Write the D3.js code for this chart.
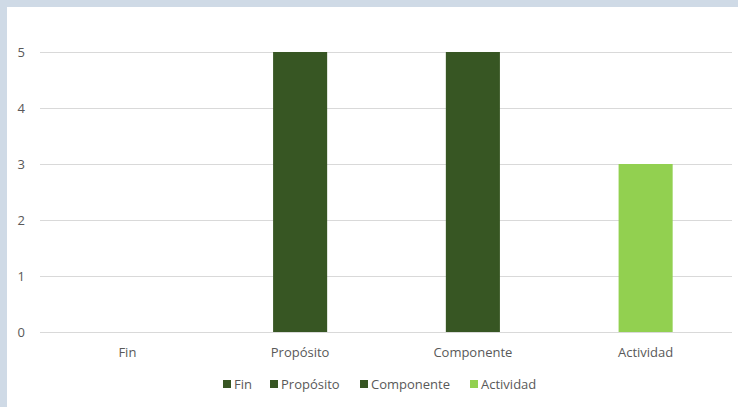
<!DOCTYPE html>
<html><head><meta charset="utf-8">
<script src="https://cdn.jsdelivr.net/npm/d3@7"></script>
<style>body{margin:0;background:#fff}svg{display:block}</style>
</head><body>
<script>
const categories = ["Fin", "Propósito", "Componente", "Actividad"];
const values = [0, 5, 5, 3];
const colors = ["#375623", "#375623", "#375623", "#92d050"];
const yTicks = [0, 1, 2, 3, 4, 5];

const W = 738, H = 407;
const svg = d3.select("body").append("svg").attr("width", W).attr("height", H);
svg.append("rect").attr("width", W).attr("height", H).attr("fill", "#cfdae6");
svg.append("rect").attr("x", 7).attr("y", 7).attr("width", W - 7).attr("height", H - 7).attr("fill", "#fff");

const font = "'Open Sans', 'Liberation Sans', sans-serif";
const x = d3.scaleBand().domain(categories).range([41, 732]).paddingInner(0.687).paddingOuter(0.3435);
const y = d3.scaleLinear().domain([0, 5]).range([332, 52]);

const g = svg.append("g");
g.selectAll("line.grid").data(yTicks).join("line")
  .attr("x1", 40).attr("x2", 732)
  .attr("y1", d => y(d) + 0.5).attr("y2", d => y(d) + 0.5)
  .attr("stroke", "#d9d9d9").attr("stroke-width", 1);

g.selectAll("text.yt").data(yTicks).join("text")
  .attr("x", 25).attr("y", d => y(d)).attr("dy", "0.35em")
  .attr("text-anchor", "end").attr("font-family", font).attr("font-size", 13)
  .attr("fill", "#595959").text(d => d);

g.selectAll("rect.bar").data(categories).join("rect")
  .attr("x", d => x(d)).attr("width", x.bandwidth())
  .attr("y", (d, i) => y(values[i])).attr("height", (d, i) => y(0) - y(values[i]))
  .attr("fill", (d, i) => colors[i]);

g.selectAll("text.xt").data(categories).join("text")
  .attr("x", d => x(d) + x.bandwidth() / 2).attr("y", 357)
  .attr("text-anchor", "middle").attr("font-family", font).attr("font-size", 13)
  .attr("fill", "#595959").text(d => d);

// legend
const legX = [223, 270, 360, 470];
const leg = g.selectAll("g.leg").data(categories).join("g")
  .attr("transform", (d, i) => `translate(${legX[i]},384)`);
leg.append("rect").attr("x", 0).attr("y", -4).attr("width", 8).attr("height", 8)
  .attr("fill", (d, i) => colors[i]);
leg.append("text").attr("x", 11).attr("y", 0).attr("dy", "0.35em")
  .attr("font-family", font).attr("font-size", 13).attr("fill", "#595959").text(d => d);
</script>
</body></html>
